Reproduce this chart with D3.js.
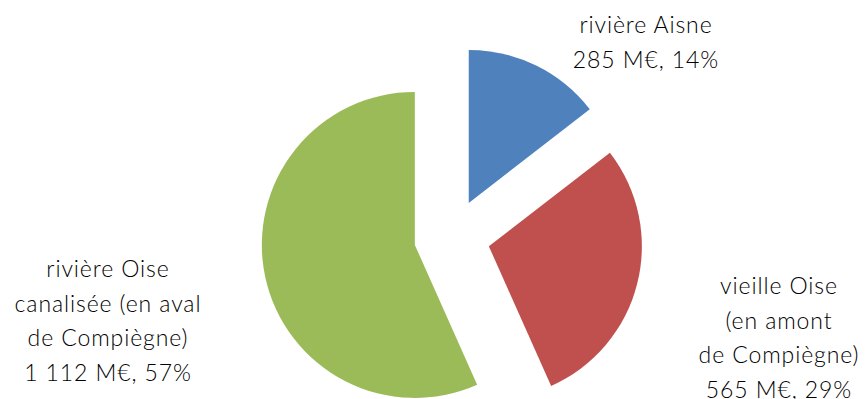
<!DOCTYPE html>
<html><head><meta charset="utf-8">
<script src="https://cdn.jsdelivr.net/npm/d3@7"></script>
<style>body{margin:0;background:#fff}svg{display:block}</style>
</head><body>
<svg id="c" width="868" height="399"></svg>
<script>
const categories = ["rivière Aisne", "vieille Oise (en amont de Compiègne)", "rivière Oise canalisée (en aval de Compiègne)"];
const values = [285, 565, 1112];
const percents = [14, 29, 57];
const colors = ["#4F81BD", "#C0504D", "#9BBB59"];
const labelLines = [
  ["rivière Aisne"],
  ["vieille Oise", "(en amont", "de Compiègne)"],
  ["rivière Oise", "canalisée (en aval", "de Compiègne)"]
];

const svg = d3.select("#c");
const cx = 452, cy = 237, R = 153, explode = 38;
const pie = d3.pie().sort(null).value(d => d)(values);
const arc = d3.arc().innerRadius(0).outerRadius(R);
const g = svg.append("g").attr("transform", `translate(${cx},${cy})`);
g.selectAll("path").data(pie).join("path")
  .attr("d", arc)
  .attr("fill", (d, i) => colors[i])
  .attr("transform", d => {
    const a = (d.startAngle + d.endAngle) / 2;
    return `translate(${explode * Math.sin(a)},${-explode * Math.cos(a)})`;
  });

const fmt = v => d3.format(",")(v).replace(/,/g, " ");
const labelPos = [[646, 33], [779, 294], [108, 277]];
const lh = 34.5;
labelLines.forEach((lines, i) => {
  const all = lines.concat([`${fmt(values[i])} M€, ${percents[i]}%`]);
  const t = svg.append("text")
    .attr("text-anchor", "middle")
    .attr("font-family", "Lato, sans-serif")
    .attr("font-weight", 300)
    .attr("font-size", 23)
    .attr("letter-spacing", 0.9)
    .attr("fill", "#000");
  all.forEach((s, k) => {
    t.append("tspan").attr("x", labelPos[i][0]).attr("y", labelPos[i][1] + k * lh).text(s);
  });
});
</script>
</body></html>
